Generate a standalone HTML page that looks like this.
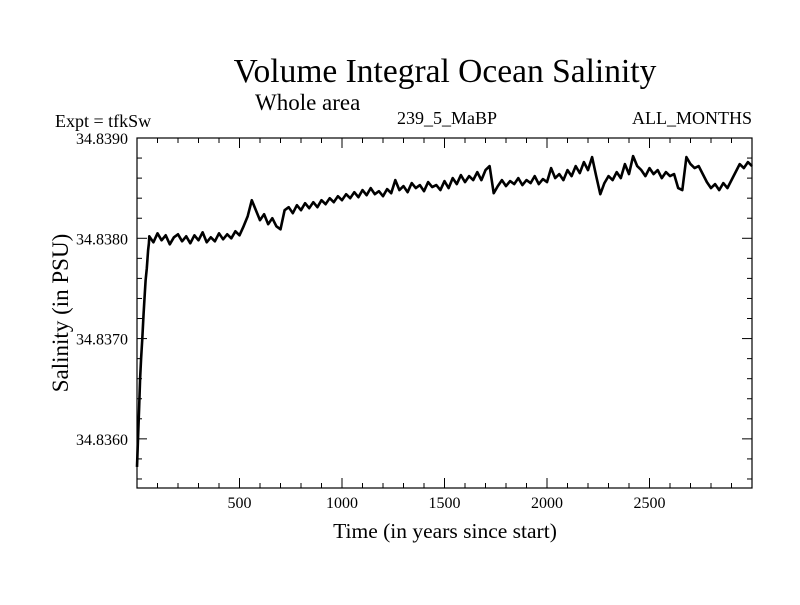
<!DOCTYPE html>
<html><head><meta charset="utf-8"><style>
body{margin:0;background:#fff}
svg text{font-family:"Liberation Serif",serif;fill:#000}
</style></head><body>
<svg id="chart" width="800" height="600" xmlns="http://www.w3.org/2000/svg">
<text x="445" y="82" font-size="33.5" text-anchor="middle">Volume Integral Ocean Salinity</text>
<text x="255" y="110" font-size="23">Whole area</text>
<text x="55" y="127" font-size="18">Expt = tfkSw</text>
<text x="447" y="124" font-size="18" text-anchor="middle">239_5_MaBP</text>
<text x="752" y="124" font-size="18" text-anchor="end">ALL_MONTHS</text>
<text x="445" y="538" font-size="21.5" text-anchor="middle">Time (in years since start)</text>
<text transform="translate(68,313) rotate(-90)" font-size="23" text-anchor="middle">Salinity (in PSU)</text>
<g id="axes"></g>
<path id="series" fill="none" stroke="#000" stroke-width="2.6" stroke-linejoin="round"/>
<rect x="137" y="138" width="615" height="350" fill="none" stroke="#000" stroke-width="1.2"/>
</svg>
<script>
const xTickValues=[500,1000,1500,2000,2500];
const yTickValues=[34.836,34.837,34.838,34.839];
const yTickLabels=["34.8360","34.8370","34.8380","34.8390"];
const earlyYears=[0,5,10,15,20,26,32,38,42,48,54,58];
const earlyAnom=[-228,-200,-170,-140,-120,-100,-75,-55,-42,-30,-12,-5];
const anomStep20From60=[
2,-4,5,-2,3,-6,1,4,-3,2,
-5,3,-2,6,-4,1,-3,5,-1,4,
0,7,3,12,22,38,28,18,24,14,
20,12,9,28,31,25,33,28,35,30,
36,31,38,34,40,36,42,38,44,40,
46,41,48,43,50,44,47,42,49,45,
58,48,52,46,55,50,53,47,56,51,
53,48,57,50,60,54,63,56,62,58,
66,58,68,72,45,52,58,52,57,54,
60,53,58,55,62,54,59,56,70,60,
64,58,68,62,72,65,76,68,81,62,
44,55,62,58,66,60,74,64,82,72,
68,62,70,64,68,60,66,62,64,50,
48,81,74,70,72,64,56,50,54,48,
55,50,58,66,74,70,76,72];
const baseSal=34.838, anomUnit=1e-5;
const X0=137,X1=752,Y0=138,Y1=488,xMin=0,xMax=3000,yMin=34.83551,yMax=34.839;
const xs=v=>X0+(v-xMin)/(xMax-xMin)*(X1-X0);
const ys=v=>Y1-(v-yMin)/(yMax-yMin)*(Y1-Y0);
const NS="http://www.w3.org/2000/svg";
const g=document.getElementById('axes');
function line(x1,y1,x2,y2,name){const l=document.createElementNS(NS,'line');
l.setAttribute('x1',x1);l.setAttribute('y1',y1);l.setAttribute('x2',x2);l.setAttribute('y2',y2);
l.setAttribute('stroke','#000');l.setAttribute('stroke-width','1');


g.appendChild(l);}
function txt(x,y,s,anchor,name){const t=document.createElementNS(NS,'text');
t.setAttribute('x',x);t.setAttribute('y',y);t.setAttribute('font-size','16');t.setAttribute('text-anchor',anchor);t.textContent=s;


g.appendChild(t);}
for(let v=100;v<3000;v+=100){const x=xs(v);const major=v%500===0;const L=major?10:5;
line(x,Y1,x,Y1-L,'x-tick');line(x,Y0,x,Y0+L,'x-tick-top');}
xTickValues.forEach(v=>txt(xs(v),508,String(v),'middle','x-tick-label'));
for(let k=0;k<=17;k++){const v=34.8356+k*0.0002;if(v>yMax+1e-9)break;const y=ys(v);
const major=Math.abs(v*1000-Math.round(v*1000))<1e-6;const L=major?10:5;
line(X0,y,X0+L,y,'y-tick');line(X1,y,X1-L,y,'y-tick-right');}
yTickValues.forEach((v,i)=>txt(128,ys(v)+6,yTickLabels[i],'end','y-tick-label'));
const pts=[];
earlyYears.forEach((t,i)=>pts.push([t,baseSal+earlyAnom[i]*anomUnit]));
anomStep20From60.forEach((a,i)=>pts.push([60+i*20,baseSal+a*anomUnit]));
document.getElementById('series').setAttribute('d',pts.map((p,i)=>(i?'L':'M')+xs(p[0]).toFixed(1)+','+ys(p[1]).toFixed(1)).join(''));
</script>
</body></html>
